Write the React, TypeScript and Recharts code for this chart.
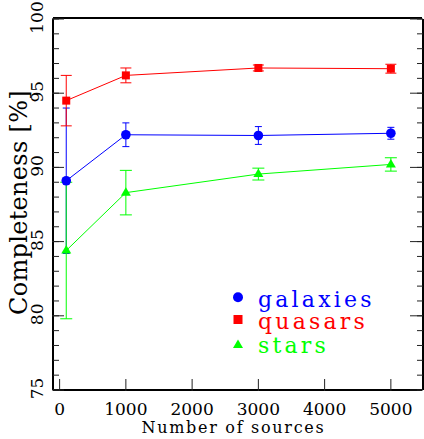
import React from 'react';
import { ComposedChart, Line, XAxis, YAxis, ErrorBar, Legend, Label } from 'recharts';

const sources = [100, 1000, 3000, 5000];
const galaxies = [89.1, 92.2, 92.15, 92.3];
const galaxiesErr = [4.9, 0.8, 0.6, 0.4];
const quasars = [94.5, 96.2, 96.7, 96.65];
const quasarsErr = [1.7, 0.5, 0.2, 0.3];
const stars = [84.4, 88.3, 89.55, 90.2];
const starsErr = [4.6, 1.5, 0.4, 0.45];

const xMajorTicks = [0, 1000, 2000, 3000, 4000, 5000];
const xAllTicks = [0, 200, 400, 600, 800, 1000, 1200, 1400, 1600, 1800, 2000, 2200, 2400, 2600, 2800, 3000, 3200, 3400, 3600, 3800, 4000, 4200, 4400, 4600, 4800, 5000, 5200, 5400];
const yMajorTicks = [75, 80, 85, 90, 95, 100];
const yAllTicks = [75, 76, 77, 78, 79, 80, 81, 82, 83, 84, 85, 86, 87, 88, 89, 90, 91, 92, 93, 94, 95, 96, 97, 98, 99, 100];

const xDomain = [-100, 5470];
const yDomain = [75, 100];

const BLUE = '#0000ff';
const RED = '#ff0000';
const GREEN = '#00ff00';
const FONT = "'DejaVu Serif', serif";
const TICK_COLOR = '#222';

const data = sources.map((x, i) => ({
  x,
  gal: galaxies[i],
  galErr: galaxiesErr[i],
  qso: quasars[i],
  qsoErr: quasarsErr[i],
  star: stars[i],
  starErr: starsErr[i],
}));

const CircleDot = (p: any) => {
  if (p.cx == null || p.cy == null) return <g key={p.key} />;
  return <circle key={p.key} cx={p.cx} cy={p.cy} r={4.8} fill={BLUE} />;
};
const SquareDot = (p: any) => {
  if (p.cx == null || p.cy == null) return <g key={p.key} />;
  return <rect key={p.key} x={p.cx - 4} y={p.cy - 4} width={8} height={8} fill={RED} />;
};
const TriDot = (p: any) => {
  if (p.cx == null || p.cy == null) return <g key={p.key} />;
  return (
    <polygon
      key={p.key}
      points={`${p.cx},${p.cy - 5.5} ${p.cx - 5},${p.cy + 3} ${p.cx + 5},${p.cy + 3}`}
      fill={GREEN}
    />
  );
};

const EmptyTick = () => <g />;

const XTickLabel = (p: any) => (
  <text x={p.x} y={p.y + 36} textAnchor="middle" fontFamily={FONT} fontSize={17} fill="#000" stroke="none">
    {p.payload.value}
  </text>
);

const YTickLabel = (p: any) => {
  const tx = p.x - 21;
  const ty = p.y - 1.5;
  return (
    <text
      x={tx}
      y={ty}
      transform={`rotate(-90 ${tx} ${ty})`}
      textAnchor="middle"
      fontFamily={FONT}
      fontSize={17}
      fill="#000"
      stroke="none"
    >
      {p.payload.value}
    </text>
  );
};

const XLabel = (p: any) => {
  const vb = p.viewBox || { x: 53, y: 391, width: 369, height: 48 };
  return (
    <text
      x={vb.x + vb.width / 2 - 4}
      y={vb.y + 42.3}
      textAnchor="middle"
      fontFamily={FONT}
      fontSize={16}
      letterSpacing={1.7}
      fill="#000"
    >
      Number of sources
    </text>
  );
};

const YLabel = (p: any) => {
  const vb = p.viewBox || { x: 0, y: 19, width: 52, height: 371 };
  const tx = vb.x + 26.5;
  const ty = vb.y + vb.height / 2 - 2;
  return (
    <text
      x={tx}
      y={ty}
      transform={`rotate(-90 ${tx} ${ty})`}
      textAnchor="middle"
      fontFamily={FONT}
      fontSize={24}
      letterSpacing={0.3}
      fill="#000"
    >
      Completeness [%]
    </text>
  );
};

const legendColors: Record<string, string> = { galaxies: BLUE, quasars: RED, stars: GREEN };

const renderLegend = (props: any) => {
  const payload = props.payload || [];
  const rowMarkerY = [17.3, 39.5, 64.5];
  const rowBaseY = [27.3, 49.3, 73.3];
  return (
    <svg width={190} height={82} style={{ display: 'block', overflow: 'visible' }}>
      {payload.map((e: any, i: number) => {
        const name = e.value;
        const color = legendColors[name] || e.color;
        const my = rowMarkerY[i];
        let marker: any = null;
        if (name === 'galaxies') marker = <circle cx={10} cy={my} r={5} fill={color} />;
        else if (name === 'quasars') marker = <rect x={5.5} y={my - 4.5} width={9} height={9} fill={color} />;
        else marker = <polygon points={`10,${my - 5} 5,${my + 3.5} 15,${my + 3.5}`} fill={color} />;
        return (
          <g key={name}>
            {marker}
            <text x={30} y={rowBaseY[i]} fontFamily={FONT} fontSize={22} letterSpacing={3.2} fill={color}>
              {name}
            </text>
          </g>
        );
      })}
    </svg>
  );
};

const frame = { stroke: '#000', strokeWidth: 2 };
const tickStroke = { stroke: TICK_COLOR, strokeWidth: 1 };

export default function App() {
  return (
    <div style={{ position: 'absolute', left: 0, top: 0, width: 424, height: 439, background: '#fff' }}>
      <ComposedChart width={424} height={439} data={data} margin={{ top: 17, right: 0, bottom: 0, left: 0 }}>
        {/* bottom: minor ticks + frame, then major ticks + labels */}
        <XAxis xAxisId="bmin" orientation="bottom" type="number" domain={xDomain} allowDataOverflow ticks={xAllTicks} interval={0} height={1} tickSize={-6} tickMargin={0} tickLine={tickStroke} axisLine={frame} tick={<EmptyTick />} />
        <XAxis
          xAxisId="main"
          orientation="bottom"
          type="number"
          dataKey="x"
          domain={xDomain}
          allowDataOverflow
          ticks={xMajorTicks}
          interval={0}
          height={48}
          tickSize={-12}
          tickMargin={0}
          tickLine={tickStroke}
          axisLine={false}
          tick={<XTickLabel />}
        >
          <Label content={<XLabel />} />
        </XAxis>
        {/* top */}
        <XAxis xAxisId="tmin" orientation="top" type="number" domain={xDomain} allowDataOverflow ticks={xAllTicks} interval={0} height={1} tickSize={-6} tickMargin={0} tickLine={tickStroke} axisLine={frame} tick={<EmptyTick />} />
        <XAxis xAxisId="tmaj" orientation="top" type="number" domain={xDomain} allowDataOverflow ticks={xMajorTicks} interval={0} height={1} tickSize={-12} tickMargin={0} tickLine={tickStroke} axisLine={false} tick={<EmptyTick />} />
        {/* left */}
        <YAxis yAxisId="lmin" orientation="left" type="number" domain={yDomain} allowDataOverflow ticks={yAllTicks} interval={0} width={1} tickSize={-6} tickMargin={0} tickLine={tickStroke} axisLine={frame} tick={<EmptyTick />} />
        <YAxis
          yAxisId="main"
          orientation="left"
          type="number"
          domain={yDomain}
          allowDataOverflow
          ticks={yMajorTicks}
          interval={0}
          width={52}
          tickSize={-12}
          tickMargin={0}
          tickLine={tickStroke}
          axisLine={false}
          tick={<YTickLabel />}
        >
          <Label content={<YLabel />} />
        </YAxis>
        {/* right */}
        <YAxis yAxisId="rmin" orientation="right" type="number" domain={yDomain} allowDataOverflow ticks={yAllTicks} interval={0} width={1} tickSize={-6} tickMargin={0} tickLine={tickStroke} axisLine={frame} tick={<EmptyTick />} />
        <YAxis yAxisId="rmaj" orientation="right" type="number" domain={yDomain} allowDataOverflow ticks={yMajorTicks} interval={0} width={1} tickSize={-12} tickMargin={0} tickLine={tickStroke} axisLine={false} tick={<EmptyTick />} />

        <Line
          xAxisId="main"
          yAxisId="main"
          type="linear"
          dataKey="gal"
          name="galaxies"
          stroke={BLUE}
          strokeWidth={1}
          dot={CircleDot}
          activeDot={false}
          isAnimationActive={false}
        >
          <ErrorBar dataKey="galErr" direction="y" width={3.5} stroke={BLUE} strokeWidth={1} isAnimationActive={false} />
        </Line>
        <Line
          xAxisId="main"
          yAxisId="main"
          type="linear"
          dataKey="qso"
          name="quasars"
          stroke={RED}
          strokeWidth={1}
          dot={SquareDot}
          activeDot={false}
          isAnimationActive={false}
        >
          <ErrorBar dataKey="qsoErr" direction="y" width={5.5} stroke={RED} strokeWidth={1} isAnimationActive={false} />
        </Line>
        <Line
          xAxisId="main"
          yAxisId="main"
          type="linear"
          dataKey="star"
          name="stars"
          stroke={GREEN}
          strokeWidth={1}
          dot={TriDot}
          activeDot={false}
          isAnimationActive={false}
        >
          <ErrorBar dataKey="starErr" direction="y" width={6} stroke={GREEN} strokeWidth={1} isAnimationActive={false} />
        </Line>

        <Legend
          layout="vertical"
          align="center"
          verticalAlign="middle"
          content={renderLegend}
          wrapperStyle={{ left: 228, top: 280, width: 190, height: 82 }}
        />
      </ComposedChart>
    </div>
  );
}
